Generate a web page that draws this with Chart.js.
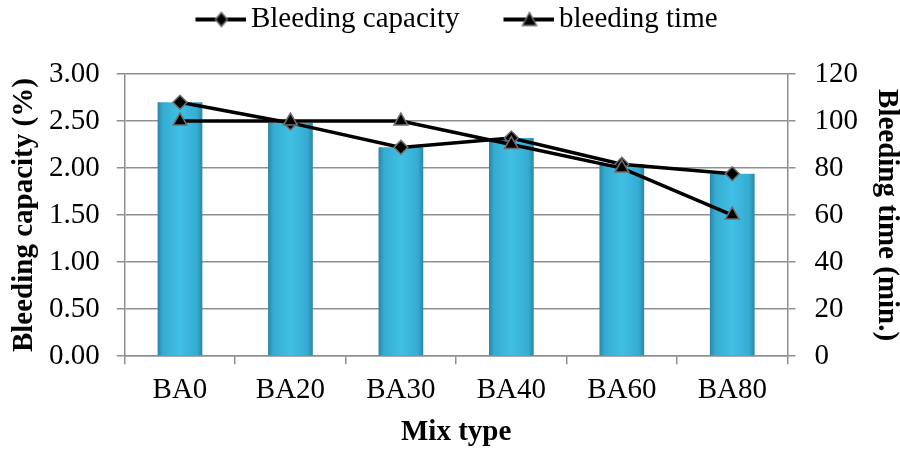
<!DOCTYPE html>
<html lang="en">
<head>
    <meta charset="UTF-8" />
    <title>Bleeding capacity and time</title>
    <script src="https://cdn.jsdelivr.net/npm/chart.js"></script>
    <style>
        html, body { margin: 0; padding: 0; background: #fff; }
        #wrap { width: 900px; height: 450px; }
    </style>
</head>
<body>
    <div id="wrap"><canvas id="bleedChart"></canvas></div>

    <script>
        // data
        const mixTypes = ['BA0', 'BA20', 'BA30', 'BA40', 'BA60', 'BA80'];
        const bleedingCapacity = [2.70, 2.48, 2.22, 2.32, 2.04, 1.94]; // %
        const bleedingTime = [100, 100, 100, 90, 80, 60]; // min.
        const capacityTicks = [0, 0.5, 1, 1.5, 2, 2.5, 3];
        const timeTicks = [0, 20, 40, 60, 80, 100, 120];

        const serif = "'Liberation Serif', 'Times New Roman', serif";
        const gridGray = '#8f8f8f';
        const barPct = 0.405;

        // legend icon: line with the marker in the middle
        function legendIcon(style) {
            const c = document.createElement('canvas');
            c.width = 100; c.height = 20;
            const g = c.getContext('2d');
            const a = 49;
            g.strokeStyle = '#000'; g.lineWidth = 4;
            g.beginPath(); g.moveTo(a, 10); g.lineTo(a + 52, 10); g.stroke();
            const cx = a + 26;
            g.fillStyle = '#000'; g.strokeStyle = '#6e6e6e'; g.lineWidth = 1.5;
            g.beginPath();
            if (style === 'diamond') {
                g.moveTo(cx, 3); g.lineTo(cx + 6, 10); g.lineTo(cx, 17); g.lineTo(cx - 6, 10);
            } else {
                g.moveTo(cx, 3); g.lineTo(cx + 7, 16); g.lineTo(cx - 7, 16);
            }
            g.closePath(); g.fill(); g.stroke();
            return c;
        }
        const icons = [legendIcon('diamond'), legendIcon('triangle')];

        function barFill(c) {
            const chart = c.chart;
            const area = chart.chartArea;
            if (!area) return '#3bb8dc';
            const x = chart.scales.x.getPixelForValue(c.dataIndex);
            const half = (area.right - area.left) / mixTypes.length * barPct / 2;
            const g = chart.ctx.createLinearGradient(x - half, 0, x + half, 0);
            g.addColorStop(0, '#2a86a6');
            g.addColorStop(0.12, '#35acd2');
            g.addColorStop(0.5, '#41bfe5');
            g.addColorStop(0.88, '#35acd2');
            g.addColorStop(1, '#2a86a6');
            return g;
        }

        // more room under the legend, and nudge the row a bit to the left
        const legendSpace = {
            id: 'legendSpace',
            beforeInit(chart) {
                const fit = chart.legend.fit;
                chart.legend.fit = function () {
                    fit.bind(chart.legend)();
                    this.height += 30;
                    if (this.lineWidths) this.lineWidths[0] += 32;
                };
            }
        };

        new Chart(document.getElementById('bleedChart'), {
            data: {
                labels: mixTypes,
                datasets: [
                    {
                        type: 'line',
                        label: 'Bleeding capacity',
                        data: bleedingCapacity,
                        yAxisID: 'y',
                        borderColor: '#000',
                        borderWidth: 3.5,
                        pointStyle: 'rectRot',
                        pointRadius: 7,
                        pointBackgroundColor: '#000',
                        pointBorderColor: '#6e6e6e',
                        pointBorderWidth: 1.5,
                        tension: 0,
                        order: 1
                    },
                    {
                        type: 'line',
                        label: 'bleeding time',
                        data: bleedingTime,
                        yAxisID: 'y1',
                        borderColor: '#000',
                        borderWidth: 3.5,
                        pointStyle: 'triangle',
                        pointRadius: 8,
                        pointBackgroundColor: '#000',
                        pointBorderColor: '#6e6e6e',
                        pointBorderWidth: 1.5,
                        tension: 0,
                        order: 0
                    },
                    {
                        type: 'bar',
                        label: 'bars',
                        data: bleedingCapacity,
                        yAxisID: 'y',
                        backgroundColor: barFill,
                        borderWidth: 0,
                        barPercentage: barPct,
                        categoryPercentage: 1,
                        order: 2
                    }
                ]
            },
            options: {
                responsive: true,
                maintainAspectRatio: false,
                animation: false,
                layout: { padding: { left: 6, right: 0, top: 0, bottom: 0 } },
                plugins: {
                    tooltip: { enabled: false },
                    legend: {
                        position: 'top',
                        labels: {
                            color: '#000',
                            font: { family: serif, size: 29 },
                            padding: 5,
                            usePointStyle: true,
                            pointStyleWidth: 80,
                            filter: item => item.datasetIndex < 2,
                            generateLabels(chart) {
                                return chart.data.datasets.map((ds, i) => ({
                                    text: ds.label,
                                    datasetIndex: i,
                                    pointStyle: icons[i] || 'circle',
                                    fillStyle: '#000',
                                    strokeStyle: '#000',
                                    fontColor: '#000',
                                    lineWidth: 0,
                                    hidden: false
                                }));
                            }
                        }
                    }
                },
                scales: {
                    x: {
                        offset: true,
                        grid: {
                            offset: true,
                            drawOnChartArea: false,
                            drawTicks: true,
                            tickLength: 8,
                            color: gridGray,
                            lineWidth: 1.5
                        },
                        border: { color: gridGray, width: 1.5 },
                        ticks: {
                            color: '#000',
                            padding: 9,
                            font: { family: serif, size: 29 }
                        },
                        title: {
                            display: true,
                            text: 'Mix type',
                            color: '#000',
                            padding: { top: 1, bottom: 3 },
                            font: { family: serif, size: 29, weight: 'bold', lineHeight: 1 }
                        }
                    },
                    y: {
                        position: 'left',
                        min: 0,
                        max: 3,
                        afterBuildTicks: s => { s.ticks = capacityTicks.map(v => ({ value: v })); },
                        grid: { color: gridGray, lineWidth: 1.5, tickLength: 8 },
                        border: { color: gridGray, width: 1.5 },
                        ticks: {
                            color: '#000',
                            padding: 17,
                            font: { family: serif, size: 29 },
                            callback: v => Number(v).toFixed(2)
                        },
                        title: {
                            display: true,
                            text: 'Bleeding capacity (%)',
                            color: '#000',
                            padding: { top: 4, bottom: -7 },
                            font: { family: serif, size: 29, weight: 'bold', lineHeight: 1 }
                        }
                    },
                    y1: {
                        position: 'right',
                        min: 0,
                        max: 120,
                        afterBuildTicks: s => { s.ticks = timeTicks.map(v => ({ value: v })); },
                        grid: { drawOnChartArea: false, color: gridGray, lineWidth: 1.5, tickLength: 8 },
                        border: { color: gridGray, width: 1.5 },
                        ticks: {
                            color: '#000',
                            padding: 19,
                            font: { family: serif, size: 29 }
                        },
                        title: {
                            display: true,
                            text: 'Bleeding time (min.)',
                            color: '#000',
                            padding: { top: -1, bottom: -5 },
                            font: { family: serif, size: 29, weight: 'bold', lineHeight: 1 }
                        }
                    }
                }
            },
            plugins: [legendSpace]
        });
    </script>
</body>
</html>
